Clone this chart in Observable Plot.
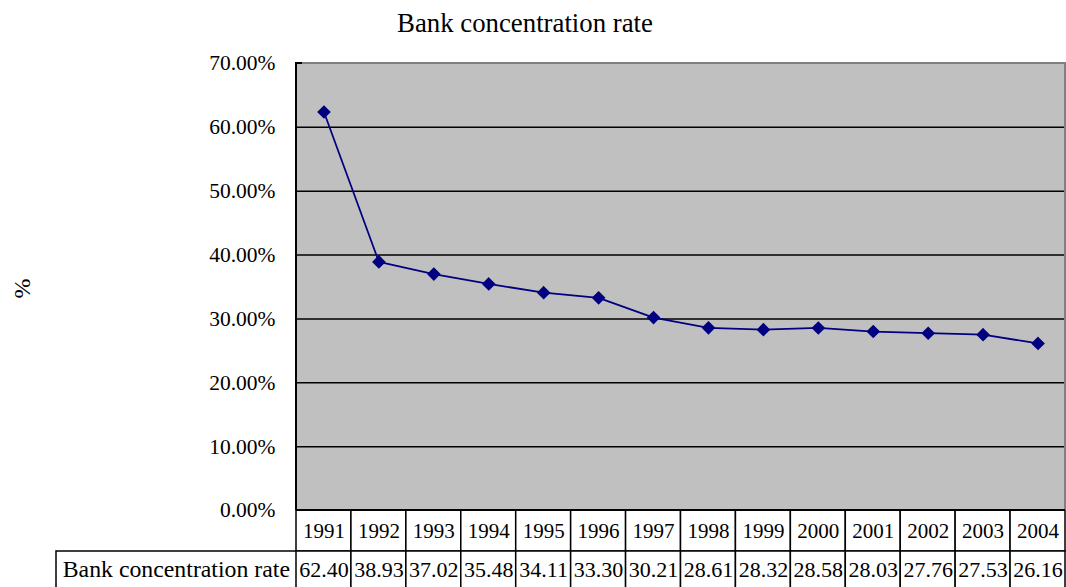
<!DOCTYPE html>
<html><head><meta charset="utf-8">
<script src="https://cdn.jsdelivr.net/npm/d3@7"></script>
<script src="https://cdn.jsdelivr.net/npm/@observablehq/plot@0.6"></script>
<style>
body{margin:0;background:#fff;}
#wrap{position:relative;width:1066px;height:587px;overflow:hidden;}
#title{position:absolute;left:0;top:8px;width:1050px;text-align:center;font-family:"Liberation Serif",serif;font-size:26.8px;line-height:30px;color:#000;}
</style></head><body>
<div id="wrap"><div id="title"></div></div>
<script>
const chartTitle = "Bank concentration rate";
const seriesName = "Bank concentration rate";
const yLabel = "%";
const years = ["1991","1992","1993","1994","1995","1996","1997","1998","1999","2000","2001","2002","2003","2004"];
const rates = [62.40,38.93,37.02,35.48,34.11,33.30,30.21,28.61,28.32,28.58,28.03,27.76,27.53,26.16];
const yTicks = [0,10,20,30,40,50,60,70];

const data = years.map((year, i) => ({year, rate: rates[i]}));
const ROW = 41;        // header row height of the data table
const LABEL_LEFT = 56; // left edge of the table's label cell
const SERIF = "Liberation Serif";

document.getElementById("title").textContent = chartTitle;

function tableExtras(index, scales, values, dimensions) {
  const x = scales.x, y = scales.y;
  const left = x(years[0]);
  const right = dimensions.width - dimensions.marginRight;
  const y0 = y(0);
  const yTop = y(yTicks[yTicks.length - 1]);
  const g = d3.create("svg:g");
  // label cell
  g.append("path")
    .attr("d", `M${LABEL_LEFT},${dimensions.height + 2}V${y0 + ROW}H${left}`)
    .attr("fill", "white").attr("stroke", "black").attr("stroke-width", 1.5);
  g.append("text")
    .attr("x", left - 6).attr("y", y0 + ROW + (dimensions.height - y0 - ROW) / 2)
    .attr("dy", "0.32em").attr("text-anchor", "end")
    .attr("font-size", 23.8).attr("fill", "black")
    .text(seriesName);
  // y-axis title, rotated
  g.append("text")
    .attr("transform", `translate(22,${(yTop + y0) / 2 + 2}) rotate(-90)`)
    .attr("dy", "0.32em").attr("text-anchor", "middle")
    .attr("font-size", 24).attr("fill", "black")
    .text(yLabel);
  // plot-area border: grey top and right, black axes
  g.append("path").attr("d", `M${left},${yTop}H${right}V${y0}`)
    .attr("fill", "none").attr("stroke", "#808080").attr("stroke-width", 2);
  g.append("line").attr("x1", left).attr("x2", left + 6)
    .attr("y1", yTop).attr("y2", yTop)
    .attr("stroke", "black").attr("stroke-width", 2);
  g.append("line").attr("x1", left).attr("x2", left)
    .attr("y1", yTop - 1).attr("y2", y0)
    .attr("stroke", "black").attr("stroke-width", 2);
  g.append("line").attr("x1", left).attr("x2", right)
    .attr("y1", y0).attr("y2", y0)
    .attr("stroke", "black").attr("stroke-width", 2);
  return g.node();
}

const chart = Plot.plot({
  width: 1066, height: 587,
  marginLeft: 296, marginRight: 1, marginTop: 63, marginBottom: 77,
  style: {fontFamily: SERIF, fontSize: "21.5px", color: "black", background: "white", overflow: "visible"},
  x: {type: "band", domain: years, padding: 0, round: false, axis: null},
  y: {domain: [0, 70], ticks: yTicks, tickSize: 0, tickPadding: 21,
      tickFormat: d => d.toFixed(2) + "%", label: null},
  marks: [
    Plot.frame({fill: "#C0C0C0", stroke: "none"}),
    Plot.ruleY(yTicks.filter(t => t > 0 && t < 70), {stroke: "black", strokeWidth: 1.5}),
    Plot.barY(years, {x: d => d, y1: 0, y2: 0, insetBottom: -ROW, fill: "white", stroke: "black", strokeWidth: 1.5}),
    Plot.barY(years, {x: d => d, y1: 0, y2: 0, insetTop: ROW, insetBottom: -79, fill: "white", stroke: "black", strokeWidth: 1.5}),
    Plot.text(data, {x: "year", y: 0, text: "year", dy: ROW / 2, fontSize: 21, fill: "black"}),
    Plot.text(data, {x: "year", y: 0, text: d => d.rate.toFixed(2), dy: ROW + 18, fontSize: 22, fill: "black"}),
    tableExtras,
    Plot.line(data, {x: "year", y: "rate", stroke: "#000080", strokeWidth: 1.75}),
    Plot.dot(data, {x: "year", y: "rate", symbol: "diamond2", r: 5.2, fill: "#000080", stroke: "#000080"})
  ]
});
chart.setAttribute("font-family", SERIF);
d3.select(chart).selectAll("g, text").attr("font-family", SERIF);
d3.select(chart).selectAll("text").style("font-family", SERIF);
document.getElementById("wrap").appendChild(chart);
</script>
</body></html>
